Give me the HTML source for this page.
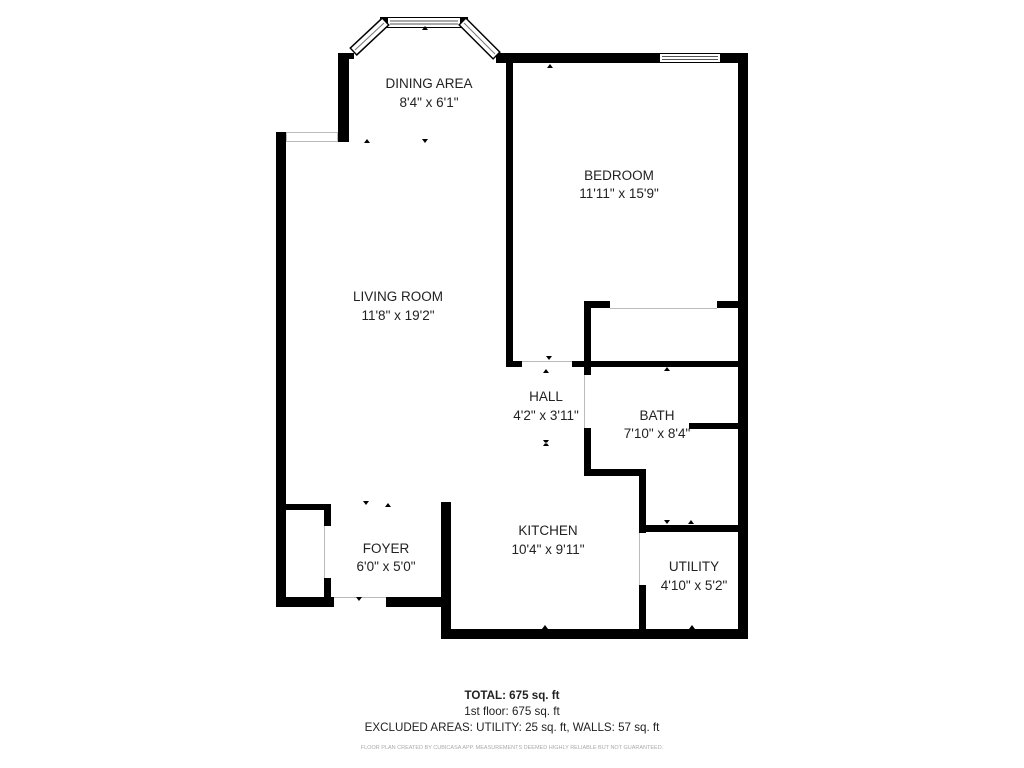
<!DOCTYPE html>
<html><head><meta charset="utf-8"><style>
html,body{margin:0;padding:0;background:#fff;}
svg{display:block}
text{font-family:"Liberation Sans","DejaVu Sans",sans-serif;fill:#222;}
</style></head><body>
<svg width="1024" height="768" viewBox="0 0 1024 768" xmlns="http://www.w3.org/2000/svg">
<rect width="1024" height="768" fill="#fff"/>
<g fill="#000">
<rect x="276" y="132" width="10" height="475"/>
<rect x="276" y="132" width="10" height="10"/>
<rect x="338" y="53" width="11" height="89"/>
<rect x="344" y="53" width="10" height="6"/>
<rect x="496" y="53" width="163" height="10"/>
<rect x="721" y="53" width="27" height="10"/>
<rect x="506" y="53" width="7" height="314"/>
<rect x="738" y="53" width="10" height="586"/>
<rect x="584" y="301" width="26" height="7"/>
<rect x="717" y="301" width="21" height="7"/>
<rect x="584" y="301" width="7" height="74"/>
<rect x="584" y="428" width="7" height="48"/>
<rect x="584" y="469" width="62" height="7"/>
<rect x="639" y="469" width="7" height="64"/>
<rect x="639" y="585" width="7" height="54"/>
<rect x="506" y="361" width="16" height="6"/>
<rect x="572" y="361" width="176" height="6"/>
<rect x="689" y="423" width="49" height="6"/>
<rect x="639" y="525" width="109" height="7"/>
<rect x="441" y="629" width="307" height="10"/>
<rect x="441" y="502" width="10" height="137"/>
<rect x="386" y="597" width="65" height="10"/>
<rect x="276" y="597" width="58" height="10"/>
<rect x="276" y="504" width="55" height="6"/>
<rect x="324" y="504" width="7" height="22"/>
<rect x="324" y="578" width="7" height="29"/>
</g>
<g stroke="#bbb" stroke-width="1" fill="none">
<rect x="286.5" y="132.5" width="51" height="9"/>
<line x1="334" y1="597.5" x2="386" y2="597.5"/>
<line x1="522" y1="361.5" x2="572" y2="361.5"/>
<line x1="584.5" y1="375" x2="584.5" y2="428"/>
<line x1="639.5" y1="533" x2="639.5" y2="585"/>
<line x1="610" y1="308.5" x2="717" y2="308.5"/>
<line x1="324.5" y1="526" x2="324.5" y2="578"/>
</g>
<rect x="659.5" y="53.5" width="61" height="9" fill="#fff" stroke="#000" stroke-width="1"/>
<line x1="662" y1="56.5" x2="718" y2="56.5" stroke="#555"/>
<line x1="662" y1="59.5" x2="718" y2="59.5" stroke="#555"/>
<rect x="385.5" y="17.5" width="77" height="10" fill="#fff" stroke="#000"/>
<line x1="390" y1="21" x2="458" y2="21" stroke="#555"/>
<line x1="390" y1="24" x2="458" y2="24" stroke="#555"/>
<rect x="380" y="17" width="8" height="11" fill="#000"/>
<rect x="460" y="17" width="8" height="11" fill="#000"/>
<line x1="353" y1="52" x2="386" y2="21" stroke="#000" stroke-width="11"/>
<line x1="354" y1="51" x2="385" y2="22" stroke="#fff" stroke-width="8"/>
<line x1="355" y1="50" x2="384" y2="23" stroke="#777" stroke-width="1"/>
<line x1="462" y1="21" x2="497" y2="56" stroke="#000" stroke-width="11"/>
<line x1="463" y1="22" x2="496" y2="55" stroke="#fff" stroke-width="8"/>
<line x1="464" y1="23" x2="495" y2="54" stroke="#777" stroke-width="1"/>
<g font-size="13.5" text-anchor="middle">
<text x="429" y="88">DINING AREA</text>
<text x="429" y="107">8'4" x 6'1"</text>
<text x="619" y="180">BEDROOM</text>
<text x="619" y="198">11'11" x 15'9"</text>
<text x="398" y="301">LIVING ROOM</text>
<text x="398" y="320">11'8" x 19'2"</text>
<text x="546" y="401">HALL</text>
<text x="546" y="420">4'2" x 3'11"</text>
<text x="657" y="420">BATH</text>
<text x="657" y="438">7'10" x 8'4"</text>
<text x="548" y="535">KITCHEN</text>
<text x="548" y="554">10'4" x 9'11"</text>
<text x="386" y="553">FOYER</text>
<text x="386" y="571">6'0" x 5'0"</text>
<text x="694" y="571">UTILITY</text>
<text x="694" y="590">4'10" x 5'2"</text>
</g>
<g font-size="11.6" text-anchor="middle">
<text x="512" y="699" font-weight="bold">TOTAL: 675 sq. ft</text>
<text x="512" y="715">1st floor: 675 sq. ft</text>
<text x="512" y="731">EXCLUDED AREAS: UTILITY: 25 sq. ft, WALLS: 57 sq. ft</text>
<text x="512" y="749" font-size="5.5" style="fill:#aaa">FLOOR PLAN CREATED BY CUBICASA APP. MEASUREMENTS DEEMED HIGHLY RELIABLE BUT NOT GUARANTEED.</text>
</g>
<g fill="#000">
<path d="M422 30 l3 -4 l3 4z"/>
<path d="M547 68 l3 -4 l3 4z"/>
<path d="M422 139 l3 4 l3 -4z"/>
<path d="M364 143 l3 -4 l3 4z"/>
<path d="M546 356 l3 4 l3 -4z"/>
<path d="M543 373 l3 -4 l3 4z"/>
<path d="M664 371 l3 -4 l3 4z"/>
<path d="M363 501 l3 4 l3 -4z"/>
<path d="M385 507 l3 -4 l3 4z"/>
<path d="M543 440 l3 4 l3 -4z M543 446 l3 -4 l3 4z"/>
<path d="M542 629 l3 -4 l3 4z"/>
<path d="M689 629 l3 -4 l3 4z"/>
<path d="M688 524 l3 -4 l3 4z"/>
<path d="M664 520 l3 4 l3 -4z"/>
<path d="M356 597 l3 4 l3 -4z"/>
</g>
</svg>
</body></html>
